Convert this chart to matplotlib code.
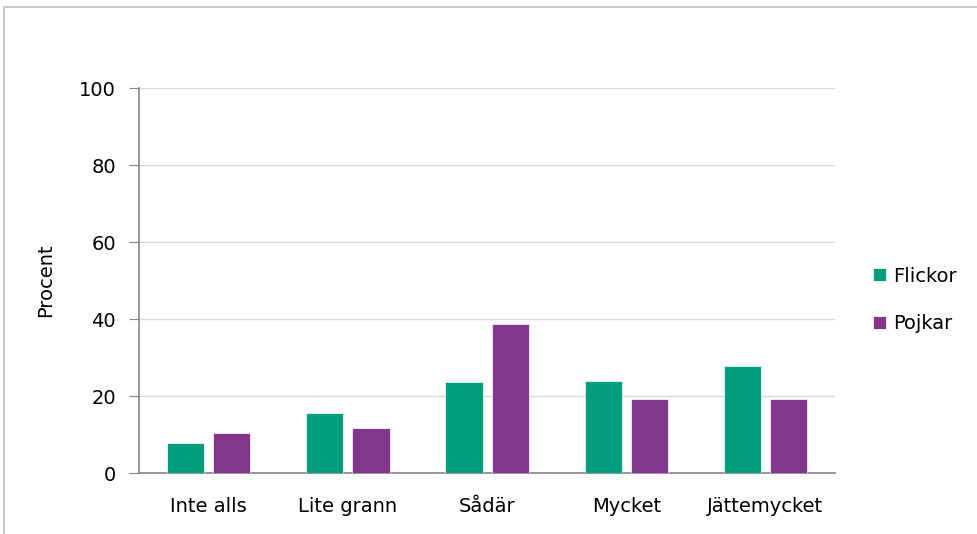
import numpy as np
import matplotlib.pyplot as plt
from matplotlib.patches import Rectangle

# DATA

categories = ["Inte alls", "Lite grann", "Sådär", "Mycket", "Jättemycket"]
flickor = [7.8, 15.7, 23.8, 23.9, 27.8]
pojkar = [10.4, 11.8, 38.8, 19.4, 19.4]
yticks = [0, 20, 40, 60, 80, 100]

# FIGURE

plt.rcParams['font.family'] = ['DejaVu Sans']
fs = 14
fig = plt.figure(figsize=(9.77, 5.34), dpi=100)
ax = fig.add_axes([0.1423, 0.1137, 0.7124, 0.7215])

# outer frame (light gray border of the chart area)
fig.patches.append(Rectangle((4/977, -0.05), 1.2, 1 - 7/534 + 0.05, transform=fig.transFigure,
                             fill=False, edgecolor="#BFBFBF", linewidth=1.2))

x = np.arange(len(categories))
w = 0.267
off = (w + 0.065) / 2
ax.bar(x - off, flickor, w, color="#009E7E", edgecolor="white", linewidth=0.5, label="Flickor", zorder=3)
ax.bar(x + off, pojkar, w, color="#82368C", edgecolor="white", linewidth=0.5, label="Pojkar", zorder=3)

ax.set_xlim(-0.5, len(categories) - 0.5)
ax.set_ylim(0, 100)
ax.set_yticks(yticks)
ax.set_xticks(x)
ax.set_xticklabels(categories)
ax.tick_params(axis="y", length=7.5, color="#868686", labelsize=fs, pad=9)
ax.tick_params(axis="x", length=0, labelsize=fs, pad=17)
ax.grid(axis="y", color="#D9D9D9", linewidth=1, zorder=0)
for s in ["top", "right"]:
    ax.spines[s].set_visible(False)
ax.spines["left"].set_color("#868686")
ax.spines["bottom"].set_color("#868686")
ax.spines["left"].set_linewidth(1.2)
ax.spines["bottom"].set_linewidth(1.2)
ax.set_ylabel("Procent", fontsize=fs, labelpad=17)

ax.legend(loc="center left", bbox_to_anchor=(1.03, 0.45), frameon=False, fontsize=fs,
          handlelength=0.65, handleheight=0.65, handletextpad=0.35, labelspacing=1.45)

fig.savefig("out.png", dpi=100)
